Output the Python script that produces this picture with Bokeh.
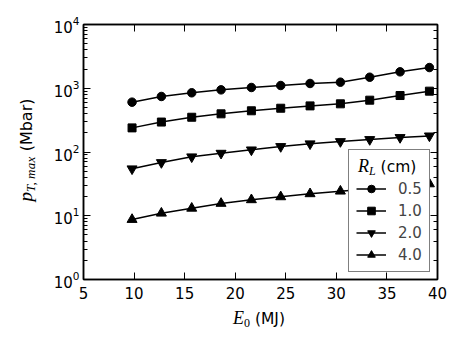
from bokeh.plotting import figure
from bokeh.models import (LinearAxis, LogAxis, Legend, LegendItem, Div,
                          SingleIntervalTicker, LogTicker, Range1d,
                          CustomLabelingPolicy)
from bokeh.layouts import column
from bokeh.embed import file_html
from bokeh.resources import INLINE

E0 = [9.8, 12.7, 15.7, 18.6, 21.6, 24.5, 27.4, 30.4, 33.3, 36.3, 39.2]
p_05 = [605, 743, 849, 944, 1028, 1104, 1188, 1245, 1489, 1810, 2113]
p_10 = [239, 295, 351, 397, 443, 486, 529, 570, 650, 769, 900]
p_20 = [54.5, 68.4, 84.1, 95.8, 108, 122, 134.6, 146, 157, 169, 179]
p_40 = [8.73, 10.96, 13.1, 15.6, 17.8, 19.8, 22.1, 24.3, 26.5, 29.0, 31.6]
labels = ["0.5", "1.0", "2.0", "4.0"]
x_ticks_interval = 5

SANS = "DejaVu Sans"
FS = "15px"

p = figure(frame_width=354, frame_height=255, y_axis_type="log",
           x_range=Range1d(5, 40), y_range=Range1d(1, 1e4),
           output_backend="svg", toolbar_location=None,
           min_border_left=83, min_border_right=17, min_border_top=24,
           min_border_bottom=60)
p.grid.visible = False
p.outline_line_color = "black"
p.outline_line_width = 1.5
p.background_fill_color = "white"
p.border_fill_color = "white"

bottom = p.below[0]
left = p.left[0]
xt = SingleIntervalTicker(interval=x_ticks_interval)
bottom.ticker = xt
top = LinearAxis(ticker=xt)
right = LogAxis(ticker=LogTicker())
p.add_layout(top, "above")
p.add_layout(right, "right")

for ax in [bottom, left, top, right]:
    ax.major_tick_in = 7
    ax.major_tick_out = 0
    ax.minor_tick_in = 4
    ax.minor_tick_out = 0
    ax.axis_line_width = 1.5
    ax.axis_line_color = "black"
    ax.major_tick_line_color = "black"
    ax.minor_tick_line_color = "black" if ax in (left, right) else None
    ax.major_label_text_font = SANS
    ax.major_label_text_font_size = FS
    ax.major_label_text_color = "black"
for ax in [top, right]:
    ax.major_label_policy = CustomLabelingPolicy(code="return []")
    ax.major_label_standoff = 0
bottom.major_label_standoff = 7
left.major_label_standoff = 4

line_kw = dict(line_color="black", line_width=1.5)
mk_kw = dict(fill_color="black", line_color="black")
r1 = [p.line(E0, p_05, **line_kw), p.scatter(E0, p_05, marker="circle", size=8.5, **mk_kw)]
r2 = [p.line(E0, p_10, **line_kw), p.scatter(E0, p_10, marker="square", size=8, **mk_kw)]
r3 = [p.line(E0, p_20, **line_kw), p.scatter(E0, p_20, marker="inverted_triangle", size=10, **mk_kw)]
r4 = [p.line(E0, p_40, **line_kw), p.scatter(E0, p_40, marker="triangle", size=10, **mk_kw)]

legend = Legend(items=[LegendItem(label=l, renderers=r) for l, r in zip(labels, [r1, r2, r3, r4])],
                location=(265, 7), title="\u00a0", title_text_font_size="15px",
                title_standoff=5,
                label_text_font=SANS, label_text_font_size=FS,
                glyph_width=30, glyph_height=19, label_height=19, spacing=3,
                padding=7, margin=0, label_standoff=12,
                border_line_color="black", border_line_width=1.5,
                background_fill_alpha=1.0)
p.add_layout(legend, "center")

# axis labels and legend title (with italic/subscript parts) as an overlay
SERIF_I = "font-family:'Liberation Serif'; font-style:italic;"
base = "position:absolute; white-space:nowrap; font-family:'DejaVu Sans'; color:black; line-height:1;"
overlay_html = (
    # y label: p_{T,max} (Mbar)
    f'<div style="{base} font-size:16px; left:25px; top:150px; '
    'transform:translate(-50%,-50%) rotate(-90deg);">'
    f'<span style="{SERIF_I} font-size:19px;">p</span>'
    f'<span style="{SERIF_I} font-size:13px; position:relative; top:3px; letter-spacing:0.3px;">T,\u2009max</span>'
    ' (Mbar)</div>'
    # x label: E_0 (MJ)
    f'<div style="{base} font-size:15.5px; left:259px; top:309px; transform:translateX(-50%);">'
    f'<span style="{SERIF_I} font-size:18px;">E</span>'
    '<span style="font-family:\'Liberation Serif\'; font-size:12px; position:relative; top:3px;">0</span>'
    ' (MJ)</div>'
    # legend title: R_L (cm)
    f'<div style="{base} font-size:15.5px; left:358px; top:157px;">'
    f'<span style="{SERIF_I} font-size:18px;">R</span>'
    f'<span style="{SERIF_I} font-size:12px; position:relative; top:3px;">L</span>'
    ' (cm)</div>'
)
overlay = Div(text=overlay_html, width=454, height=339, margin=0,
              styles={"position": "absolute", "left": "0px", "top": "0px",
                      "pointer-events": "none", "z-index": "10"})

layout = column(p, overlay)
open("out.html", "w").write(file_html(layout, INLINE))
